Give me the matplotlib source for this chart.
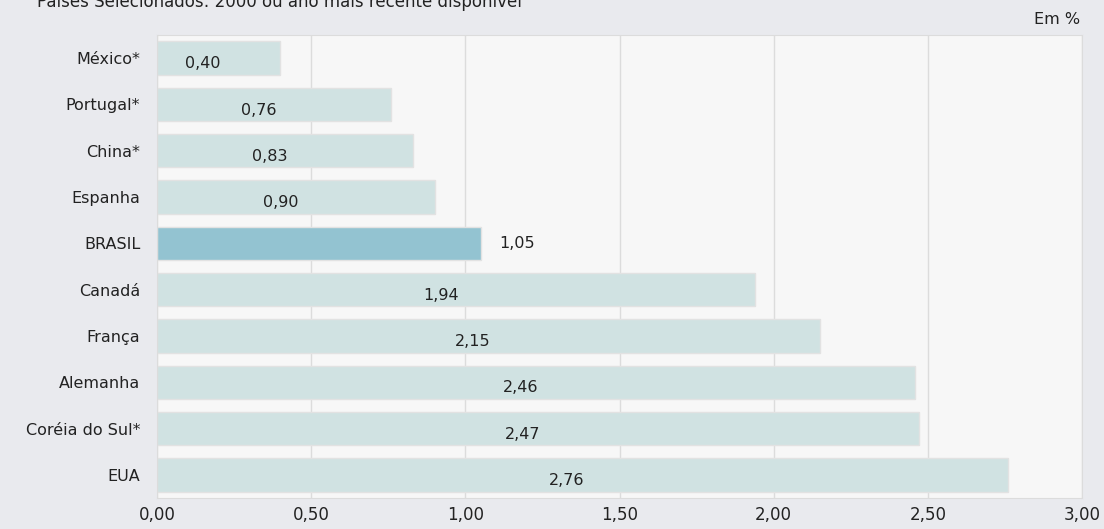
import numpy as np
import matplotlib.pyplot as plt

# dados
paises = ["México*", "Portugal*", "China*", "Espanha", "BRASIL",
          "Canadá", "França", "Alemanha", "Coréia do Sul*", "EUA"]
valores = [0.40, 0.76, 0.83, 0.90, 1.05, 1.94, 2.15, 2.46, 2.47, 2.76]
ticks_x = [0.0, 0.5, 1.0, 1.5, 2.0, 2.5, 3.0]

W, H = 1104, 529
fig = plt.figure(figsize=(W / 100, H / 100), dpi=100, facecolor="#e9eaee")
ax = fig.add_axes([157 / W, 1 - 498 / H, (1082 - 157) / W, (498 - 35) / H])
ax.set_facecolor("#f7f7f7")

y = np.arange(len(paises))
cores = ["#93c3d1" if p == "BRASIL" else "#d0e2e2" for p in paises]
ax.barh(y, valores, height=0.72, color=cores, edgecolor="#e2e2e2", linewidth=1, zorder=2)

for yi, v, p in zip(y, valores, paises):
    txt = f"{v:.2f}".replace(".", ",")
    if p == "BRASIL":
        ax.text(v + 0.06, yi, txt, ha="left", va="center", fontsize=11.5, color="#222222", zorder=3)
    else:
        ax.text(v / 2 - 0.05, yi + 0.12, txt, ha="center", va="center", fontsize=11.5,
                color="#222222", zorder=3)

ax.set_xlim(0, 3)
ax.set_ylim(len(paises) - 0.5, -0.5)
ax.set_yticks(y)
ax.set_yticklabels(paises, fontsize=11.5, color="#222222")
ax.set_xticks(ticks_x)
ax.set_xticklabels([f"{t:.2f}".replace(".", ",") for t in ticks_x], fontsize=12, color="#222222")
ax.tick_params(length=0, pad=12)
ax.tick_params(axis="x", pad=6)
ax.grid(axis="x", color="#dcdcdc", linewidth=1, zorder=0)
for s in ax.spines.values():
    s.set_color("#dcdcdc")

fig.text(37 / W, 1 - 2 / H, "Países Selecionados: 2000 ou ano mais recente disponível",
         ha="left", va="center", fontsize=12, color="#222222")
fig.text(1080 / W, 1 - 20 / H, "Em %", ha="right", va="center", fontsize=11.5, color="#222222")

fig.savefig("out.png", dpi=100, facecolor=fig.get_facecolor())
